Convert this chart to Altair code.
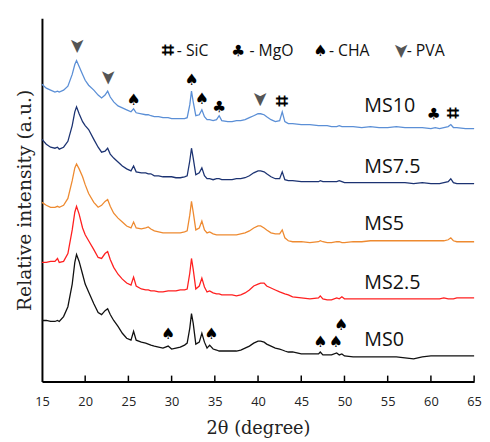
import altair as alt
import pandas as pd

theta = [15, 15.5, 16, 16.5, 16.8, 17, 17.5, 18, 18.5, 18.8,
         19, 19.3, 19.7, 20, 20.4, 21, 21.5, 21.9, 22.3, 22.6,
         22.9, 23.3, 23.8, 24.3, 24.8, 25.3, 25.6, 25.9, 26.5, 27,
         27.3, 27.6, 28, 28.5, 29, 29.6, 30, 30.5, 31, 31.5,
         31.8, 32.1, 32.3, 32.5, 32.8, 33.2, 33.5, 33.8, 34.1, 34.4,
         34.8, 35.2, 35.5, 35.8, 36.5, 37, 37.5, 38, 38.5, 39,
         39.5, 40, 40.3, 40.7, 41, 41.5, 42, 42.5, 42.8, 43.1,
         43.5, 44, 45, 46, 47, 47.2, 47.5, 48, 48.5, 49.1,
         49.4, 49.7, 50, 51, 52, 53, 54, 55, 56, 57,
         58, 59, 60, 60.5, 61, 61.5, 62, 62.3, 62.6, 63,
         64, 65]

ms10 = [302, 298, 296, 294, 295, 294, 296, 300, 312, 322,
        326, 320, 312, 306, 301, 296, 291, 288, 291, 295,
        289, 284, 280, 278, 276, 274, 277, 273, 272, 271,
        271, 270, 269, 269, 268, 268, 267, 267, 267, 267,
        268, 281, 295, 284, 270, 271, 276, 269, 266, 266,
        265, 266, 270, 265, 264, 264, 265, 265, 266, 268,
        270, 272, 272, 271, 269, 266, 264, 265, 274, 264,
        262, 262, 261, 261, 260, 260, 260, 260, 259, 259,
        260, 259, 259, 259, 258, 259, 258, 258, 259, 258,
        258, 258, 257, 258, 257, 258, 259, 261, 258, 258,
        257, 257]

ms75 = [246, 241, 238, 237, 238, 236, 238, 244, 260, 274,
        279, 272, 264, 260, 256, 246, 238, 233, 234, 237,
        231, 227, 223, 219, 216, 214, 219, 213, 212, 212,
        211, 211, 209, 209, 208, 208, 208, 207, 207, 208,
        209, 224, 237, 227, 210, 212, 217, 209, 206, 206,
        205, 206, 206, 205, 205, 205, 206, 206, 207, 209,
        212, 214, 214, 213, 211, 208, 206, 206, 213, 205,
        204, 204, 203, 203, 203, 204, 203, 203, 203, 203,
        204, 203, 202, 202, 202, 202, 202, 202, 202, 202,
        201, 202, 201, 201, 201, 202, 203, 206, 202, 201,
        201, 201]

ms5 = [182, 179, 177, 177, 178, 177, 179, 186, 204, 217,
       221, 216, 208, 200, 191, 182, 177, 179, 183, 185,
       178, 171, 166, 162, 158, 156, 162, 156, 155, 156,
       157, 155, 153, 152, 151, 151, 151, 151, 151, 152,
       153, 169, 183, 172, 154, 156, 163, 154, 151, 152,
       150, 149, 149, 149, 149, 149, 149, 150, 151, 153,
       156, 158, 158, 156, 154, 151, 150, 150, 154, 146,
       143, 142, 142, 141, 142, 143, 142, 141, 141, 142,
       142, 141, 141, 142, 142, 143, 143, 143, 143, 143,
       143, 143, 143, 143, 143, 143, 144, 146, 143, 142,
       142, 142]

ms25 = [121, 121, 122, 122, 125, 121, 122, 130, 154, 172,
        178, 170, 156, 149, 143, 134, 126, 125, 130, 132,
        124, 116, 109, 104, 100, 98, 106, 97, 94, 93,
        93, 92, 92, 91, 91, 92, 92, 92, 93, 93,
        94, 110, 125, 114, 94, 97, 105, 96, 91, 92,
        90, 89, 89, 88, 88, 88, 87, 88, 90, 93,
        97, 99, 100, 100, 97, 95, 93, 91, 90, 89,
        88, 86, 85, 84, 85, 87, 84, 83, 83, 85,
        84, 86, 84, 84, 84, 84, 84, 84, 84, 84,
        84, 84, 84, 84, 84, 85, 84, 84, 84, 85,
        85, 85]

ms0 = [62, 62, 61, 61, 62, 61, 66, 76, 99, 121,
       129, 122, 109, 99, 91, 79, 70, 68, 72, 74,
       68, 62, 56, 49, 44, 42, 51, 42, 40, 39,
       38, 37, 36, 35, 34, 36, 33, 34, 35, 37,
       39, 54, 69, 59, 38, 40, 49, 40, 34, 37,
       33, 32, 31, 31, 31, 31, 31, 32, 34, 36,
       39, 41, 41, 40, 38, 36, 34, 33, 32, 31,
       30, 30, 28, 28, 28, 30, 27, 27, 27, 29,
       27, 28, 26, 25, 25, 25, 25, 25, 25, 24,
       23, 25, 26, 26, 26, 26, 26, 26, 26, 26,
       26, 26]

series_names = ["MS10", "MS7.5", "MS5", "MS2.5", "MS0"]
series_colors = ["#5b8fd6", "#1c3372", "#ee8a30", "#ff2020", "#111111"]
series_label_theta = [52.3, 52.3, 52.3, 52.3, 52.3]
series_label_height = [280, 218, 160, 100, 42]

ann_theta = [19.0, 22.6, 25.6, 32.3, 33.5, 35.5, 40.2, 42.8, 60.3, 62.5,
             29.6, 34.6, 47.2, 49.0, 49.6]
ann_height = [341, 309, 286, 306, 287, 279, 287, 284, 272, 272,
              48, 48, 40, 40, 57]
ann_phase = ["PVA", "PVA", "CHA", "CHA", "CHA", "MgO", "PVA", "SiC", "MgO", "SiC",
             "CHA", "CHA", "CHA", "CHA", "CHA"]

phases = ["SiC", "MgO", "CHA", "PVA"]
phase_glyphs = ["⌗", "♣", "♠", "➤"]
legend_symbol_theta = [29.6, 37.7, 47.2, 56.5]
legend_text_theta = [30.6, 39.0, 48.2, 57.2]
legend_height = 336

x_ticks = [15, 20, 25, 30, 35, 40, 45, 50, 55, 60, 65]

glyph_of = dict(zip(phases, phase_glyphs))

rows = []
for name, vals in zip(series_names, [ms10, ms75, ms5, ms25, ms0]):
    assert len(vals) == len(theta), name
    for t, v in zip(theta, vals):
        rows.append({"theta": t, "intensity": v, "series": name})
df = pd.DataFrame(rows)

labels_df = pd.DataFrame({"theta": series_label_theta, "intensity": series_label_height,
                          "series": series_names})
ann_df = pd.DataFrame({"theta": ann_theta, "intensity": ann_height, "phase": ann_phase,
                       "glyph": [glyph_of[p] for p in ann_phase]})
leg_sym_df = pd.DataFrame({"theta": legend_symbol_theta, "intensity": [legend_height] * 4,
                           "phase": phases, "glyph": phase_glyphs})
leg_txt_df = pd.DataFrame({"theta": legend_text_theta, "intensity": [legend_height] * 4,
                           "text": ["- " + p for p in phases]})
ticks_df = pd.DataFrame({"theta": x_ticks[1:], "y0": [0] * (len(x_ticks) - 1),
                         "y1": [6] * (len(x_ticks) - 1)})

xscale = alt.Scale(domain=[15, 65], nice=False, zero=False)
yscale = alt.Scale(domain=[0, 369], nice=False, zero=False)

xaxis = alt.Axis(values=x_ticks, ticks=False, grid=False, domainColor="#000",
                 domainWidth=2, labelFont="Open Sans", labelFontSize=13,
                 labelColor="#222", labelPadding=14, labelFlush=False,
                 title="2θ (degree)", titleFont="DejaVu Serif", titleFontSize=18,
                 titleFontWeight="normal", titleColor="#222", titlePadding=12)
yaxis = alt.Axis(labels=False, ticks=False, grid=False, domainColor="#000",
                 domainWidth=2, title="Relative intensity (a.u.)",
                 titleFont="DejaVu Serif", titleFontSize=19, titleFontWeight="normal",
                 titleColor="#222", titlePadding=8)

lines = alt.Chart(df).mark_line(strokeWidth=1.3).encode(
    x=alt.X("theta:Q", scale=xscale, axis=xaxis),
    y=alt.Y("intensity:Q", scale=yscale, axis=yaxis),
    color=alt.Color("series:N", scale=alt.Scale(domain=series_names, range=series_colors),
                    legend=None),
    detail="series:N",
)

tick_marks = alt.Chart(ticks_df).mark_rule(color="#000", strokeWidth=1.5).encode(
    x=alt.X("theta:Q", scale=xscale),
    y=alt.Y("y0:Q", scale=yscale),
    y2="y1:Q",
)

series_text = alt.Chart(labels_df).mark_text(
    align="left", baseline="middle", font="Open Sans", fontSize=20, color="#111"
).encode(
    x=alt.X("theta:Q", scale=xscale),
    y=alt.Y("intensity:Q", scale=yscale),
    text="series:N",
)


def glyph_layer(data, pva):
    base = alt.Chart(data)
    enc = dict(
        x=alt.X("theta:Q", scale=xscale),
        y=alt.Y("intensity:Q", scale=yscale),
        text="glyph:N",
    )
    if pva:
        return base.transform_filter(alt.datum.phase == "PVA").mark_text(
            baseline="middle", font="DejaVu Sans", fontSize=20, color="#555", angle=90
        ).encode(**enc)
    return base.transform_filter(alt.datum.phase != "PVA").mark_text(
        baseline="middle", font="DejaVu Sans", fontSize=16, color="#000", fontWeight="bold"
    ).encode(
        size=alt.condition(alt.datum.phase == "SiC", alt.value(21), alt.value(16)),
        **enc,
    )


leg_text = alt.Chart(leg_txt_df).mark_text(
    align="left", baseline="middle", font="Open Sans", fontSize=16, color="#111"
).encode(
    x=alt.X("theta:Q", scale=xscale),
    y=alt.Y("intensity:Q", scale=yscale),
    text="text:N",
)

chart = alt.layer(
    lines, tick_marks, series_text,
    glyph_layer(ann_df, False), glyph_layer(ann_df, True),
    glyph_layer(leg_sym_df, False), glyph_layer(leg_sym_df, True),
    leg_text,
).properties(
    width=439, height=369, autosize="none",
    padding={"left": 34.5, "top": 7, "right": 8, "bottom": 58},
    background="white",
).configure_view(stroke=None)

chart.save("out.html", embed_options={"renderer": "svg", "actions": False})
